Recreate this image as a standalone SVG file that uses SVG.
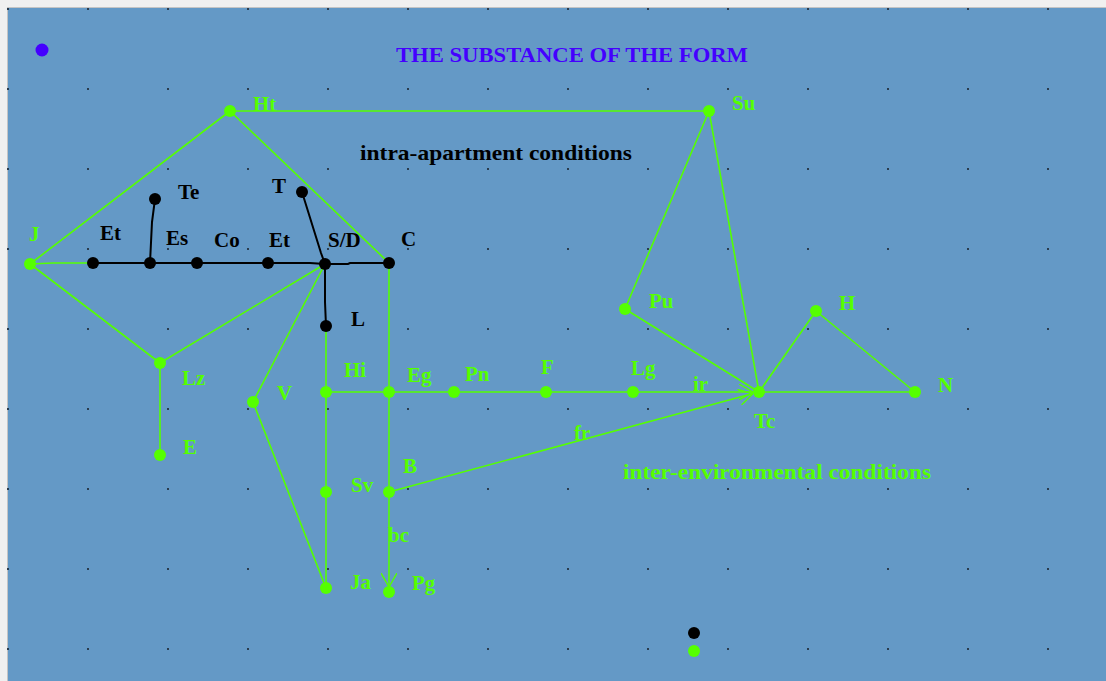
<svg xmlns="http://www.w3.org/2000/svg" width="1106" height="681" viewBox="0 0 1106 681">
<style>
text{font-family:"Liberation Serif","Times New Roman",serif;font-weight:bold;font-size:21px}
.g circle{fill:#55ff00}
.g text,.glab{fill:#55ff00}
.k circle{fill:#000}
.k text{fill:#000}
.ge line,.ge polyline{stroke:#55ff00;stroke-width:1.6;fill:none}
.ke line,.ke polyline{stroke:#000;stroke-width:2;fill:none}
</style>
<defs>
<pattern id="grid" x="7" y="8" width="80" height="80" patternUnits="userSpaceOnUse">
<rect x="0" y="0" width="2" height="2" fill="#2b3c4e"/>
</pattern>
<marker id="arr" viewBox="0 0 14 16" refX="14" refY="8" markerWidth="14" markerHeight="16" markerUnits="userSpaceOnUse" orient="auto">
<path d="M0,0 L14,8 L0,16" fill="none" stroke="#55ff00" stroke-width="1.4"/>
</marker>
</defs>
<rect x="0" y="0" width="1106" height="681" fill="#f0f0f0"/>
<rect x="7" y="7" width="1099" height="674" fill="#6499c6"/>
<line x1="7" y1="7.5" x2="1106" y2="7.5" stroke="#c4c4c4" stroke-width="1"/>
<line x1="7.5" y1="7" x2="7.5" y2="681" stroke="#c4c4c4" stroke-width="1"/>
<rect x="7" y="8" width="1099" height="673" fill="url(#grid)"/>

<text x="396" y="62" fill="#4400ff" font-size="22" textLength="352" lengthAdjust="spacingAndGlyphs">THE SUBSTANCE OF THE FORM</text>
<circle id="blue-dot" cx="42" cy="50" r="6.5" fill="#4400ff"/>
<text x="360" y="160" fill="#000" font-size="21" textLength="272" lengthAdjust="spacingAndGlyphs">intra-apartment conditions</text>
<text x="623" y="479" class="glab" font-size="21" textLength="308" lengthAdjust="spacingAndGlyphs">inter-environmental conditions</text>

<g id="connectors">
<g class="ge">
<line x1="30" y1="264" x2="230" y2="111"/>
<line x1="230" y1="111" x2="709" y2="111"/>
<line x1="230" y1="111" x2="389" y2="263"/>
<polyline points="30,264 53,263 93,263"/>
<line x1="30" y1="264" x2="160" y2="363"/>
<line x1="160" y1="363" x2="325" y2="264"/>
<line x1="160" y1="363" x2="160" y2="455"/>
<line x1="325" y1="264" x2="253" y2="402"/>
<line x1="253" y1="402" x2="326" y2="588"/>
<line x1="389" y1="263" x2="389" y2="392"/>
<line x1="389" y1="392" x2="389" y2="492"/>
<line x1="389" y1="492" x2="389" y2="587" marker-end="url(#arr)"/>
<line x1="326" y1="326" x2="326" y2="392"/>
<line x1="326" y1="392" x2="326" y2="492"/>
<line x1="326" y1="492" x2="326" y2="588"/>
<line x1="326" y1="392" x2="389" y2="392"/>
<line x1="389" y1="392" x2="454" y2="392"/>
<line x1="454" y1="392" x2="546" y2="392"/>
<line x1="546" y1="392" x2="633" y2="392"/>
<line x1="633" y1="392" x2="753" y2="392" marker-end="url(#arr)"/>
<line x1="759" y1="392" x2="915" y2="392"/>
<line x1="389" y1="492" x2="753" y2="393.6" marker-end="url(#arr)"/>
<line x1="709" y1="111" x2="625" y2="309"/>
<line x1="625" y1="309" x2="759" y2="392"/>
<line x1="709" y1="111" x2="759" y2="392"/>
<line x1="759" y1="392" x2="816" y2="311"/>
<line x1="816" y1="311" x2="915" y2="392"/>
</g>
<g class="ke">
<line x1="93" y1="263" x2="150" y2="263"/>
<line x1="150" y1="263" x2="197" y2="263"/>
<line x1="197" y1="263" x2="268" y2="263"/>
<polyline points="268,263 310,263 325,264"/>
<polyline points="325,264 348,264 350,263 389,263"/>
<polyline points="150,263 152,222 155,199"/>
<polyline points="302,192 321,253 325,264"/>
<polyline points="325,264 325,302 326,326"/>
</g>
<text x="693" y="391" class="glab">ir</text>
<text x="574" y="440" class="glab">fr</text>
<text x="388" y="542" class="glab">bc</text>
</g>

<g id="n-J" class="g"><circle cx="30" cy="264" r="6"/><text x="29" y="241">J</text></g>
<g id="n-Ht" class="g"><circle cx="230" cy="111" r="6"/><text x="253" y="111">Ht</text></g>
<g id="n-Su" class="g"><circle cx="709" cy="111" r="6"/><text x="732" y="110">Su</text></g>
<g id="n-Lz" class="g"><circle cx="160" cy="363" r="6"/><text x="182" y="385">Lz</text></g>
<g id="n-E" class="g"><circle cx="160" cy="455" r="6"/><text x="183" y="454">E</text></g>
<g id="n-V" class="g"><circle cx="253" cy="402" r="6"/><text x="277" y="400">V</text></g>
<g id="n-Hi" class="g"><circle cx="326" cy="392" r="6"/><text x="344" y="377">Hi</text></g>
<g id="n-Eg" class="g"><circle cx="389" cy="392" r="6"/><text x="407" y="382">Eg</text></g>
<g id="n-Pn" class="g"><circle cx="454" cy="392" r="6"/><text x="465" y="381">Pn</text></g>
<g id="n-F" class="g"><circle cx="546" cy="392" r="6"/><text x="541" y="374">F</text></g>
<g id="n-Lg" class="g"><circle cx="633" cy="392" r="6"/><text x="631" y="375">Lg</text></g>
<g id="n-Tc" class="g"><circle cx="759" cy="392" r="6"/><text x="754" y="428">Tc</text></g>
<g id="n-N" class="g"><circle cx="915" cy="392" r="6"/><text x="938" y="392">N</text></g>
<g id="n-H" class="g"><circle cx="816" cy="311" r="6"/><text x="839" y="310">H</text></g>
<g id="n-Pu" class="g"><circle cx="625" cy="309" r="6"/><text x="649" y="308">Pu</text></g>
<g id="n-Sv" class="g"><circle cx="326" cy="492" r="6"/><text x="351" y="492">Sv</text></g>
<g id="n-B" class="g"><circle cx="389" cy="492" r="6"/><text x="403" y="473">B</text></g>
<g id="n-Ja" class="g"><circle cx="326" cy="588" r="6"/><text x="350" y="589">Ja</text></g>
<g id="n-Pg" class="g"><circle cx="389" cy="592" r="6"/><text x="412" y="590">Pg</text></g>
<g id="n-green-dot" class="g"><circle cx="694" cy="651" r="6"/></g>

<g id="n-Et1" class="k"><circle cx="93" cy="263" r="6"/><text x="100" y="240">Et</text></g>
<g id="n-Es" class="k"><circle cx="150" cy="263" r="6"/><text x="166" y="245">Es</text></g>
<g id="n-Te" class="k"><circle cx="155" cy="199" r="6"/><text x="178" y="199">Te</text></g>
<g id="n-Co" class="k"><circle cx="197" cy="263" r="6"/><text x="214" y="247">Co</text></g>
<g id="n-Et2" class="k"><circle cx="268" cy="263" r="6"/><text x="269" y="247">Et</text></g>
<g id="n-T" class="k"><circle cx="302" cy="192" r="6"/><text x="272" y="193">T</text></g>
<g id="n-SD" class="k"><circle cx="325" cy="264" r="6"/><text x="328" y="247">S/D</text></g>
<g id="n-C" class="k"><circle cx="389" cy="263" r="6"/><text x="401" y="246">C</text></g>
<g id="n-L" class="k"><circle cx="326" cy="326" r="6"/><text x="351" y="326">L</text></g>
<g id="n-black-dot" class="k"><circle cx="694" cy="633" r="6"/></g>
</svg>
